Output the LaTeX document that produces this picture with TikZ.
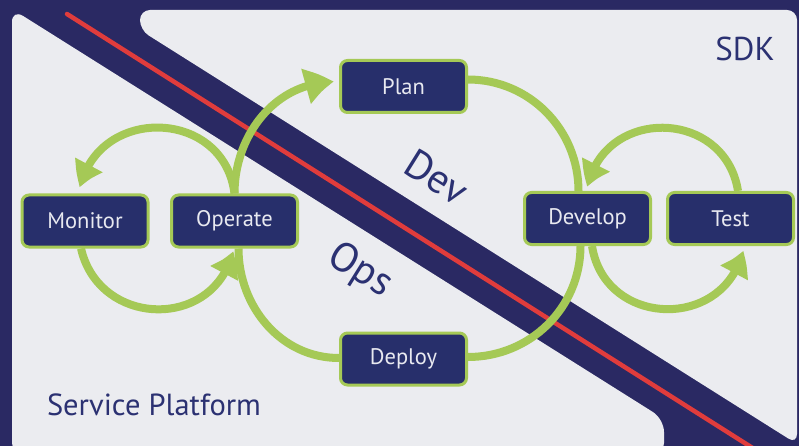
\documentclass[tikz,border=0pt]{standalone}
\usepackage{fontspec}
\setmainfont{PT Sans}
\usetikzlibrary{arrows.meta,bending}
\definecolor{navybg}{HTML}{2A2963}
\definecolor{boxnavy}{HTML}{272F6B}
\definecolor{loopgreen}{HTML}{A5C956}
\definecolor{panelgray}{HTML}{EBECF0}
\definecolor{bandred}{HTML}{E03C3C}
\definecolor{labelnavy}{HTML}{2B3172}
\definecolor{boxtext}{HTML}{E8E9F0}
\pgfdeclarelayer{bg}
\pgfdeclarelayer{lines}
\pgfsetlayers{bg,lines,main}
\begin{document}
\begin{tikzpicture}[x=1pt,y=-1pt,
  taskbox/.style={draw=loopgreen, line width=3pt, fill=boxnavy, rounded corners=7pt,
    minimum width=126pt, minimum height=52pt, inner sep=0pt, text=boxtext,
    font=\fontsize{22.5}{26}\selectfont},
  flow/.style={draw=loopgreen, line width=8pt},
  tipped/.style={flow, -{Triangle[length=25pt,width=29pt,bend]}},
  bigtipped/.style={flow, -{Triangle[length=29pt,width=34pt,bend]}},
  biglabel/.style={text=labelnavy, inner sep=0pt},
]
\useasboundingbox (0,0) rectangle (799,446);
\begin{pgfonlayer}{bg}
  \clip (0,0) rectangle (799,446);
  \fill[navybg] (-5,-5) rectangle (805,455);
  \fill[panelgray, rounded corners=10pt] (140,10) -- (797,10) -- (797,444) -- (140,30) -- cycle;
  \fill[panelgray, rounded corners=13pt] (12,456) -- (12,9) -- (664,419) -- (664,456) -- cycle;
  \draw[bandred, line width=4.5pt, line cap=round] (67,14) -- (800,478);
\end{pgfonlayer}

\node[taskbox] (plan) at (403.5,86.5) {Plan};
\node[taskbox] (develop) at (587.5,218.5) {Develop};
\node[taskbox] (test) at (730.5,218.5) {Test};
\node[taskbox] (monitor) at (85,221) {Monitor};
\node[taskbox] (operate) at (234.5,221) {Operate};
\node[taskbox] (deploy) at (403.5,359) {Deploy};

\node[biglabel, anchor=base, font=\fontsize{33}{38}\selectfont] (sdk) at (745,61) {SDK};
\node[biglabel, anchor=base, font=\fontsize{30.5}{36}\selectfont] (platform) at (154,415) {Service Platform};
\node[biglabel, rotate=-32, font=\fontsize{41}{46}\selectfont] (dev) at (437,177) {Dev};
\node[biglabel, rotate=-32, font=\fontsize{41}{46}\selectfont] (ops) at (360,271) {Ops};

\begin{pgfonlayer}{lines}
  \draw[bigtipped] (operate.north) to[out=90,in=180] ([xshift=-5pt,yshift=4.5pt]plan.west);
  \draw[flow] ([yshift=7pt]plan.east) to[out=0,in=90] ([xshift=-9pt]develop.north);
  \draw[flow] ([xshift=-7pt]develop.south) to[out=-90,in=0] ([yshift=2pt]deploy.east);
  \draw[flow] ([yshift=1pt]deploy.west) to[out=180,in=-90] ([xshift=4pt]operate.south);
  \draw[tipped] (operate.north) to[out=97,in=77,looseness=1.41] ([xshift=-5pt,yshift=6pt]monitor.north);
  \draw[tipped] ([xshift=-4pt]monitor.south) to[out=-77,in=-103,looseness=1.37] ([xshift=-1.5pt,yshift=-2.5pt]operate.south);
  \draw[tipped] ([xshift=7.5pt]test.north) to[out=99,in=78,looseness=1.41] ([yshift=4pt]develop.north);
  \draw[tipped] ([xshift=4.5pt]develop.south) to[out=-81,in=-103,looseness=1.40] ([xshift=12.5pt,yshift=-4.5pt]test.south);
\end{pgfonlayer}
\end{tikzpicture}
\end{document}
